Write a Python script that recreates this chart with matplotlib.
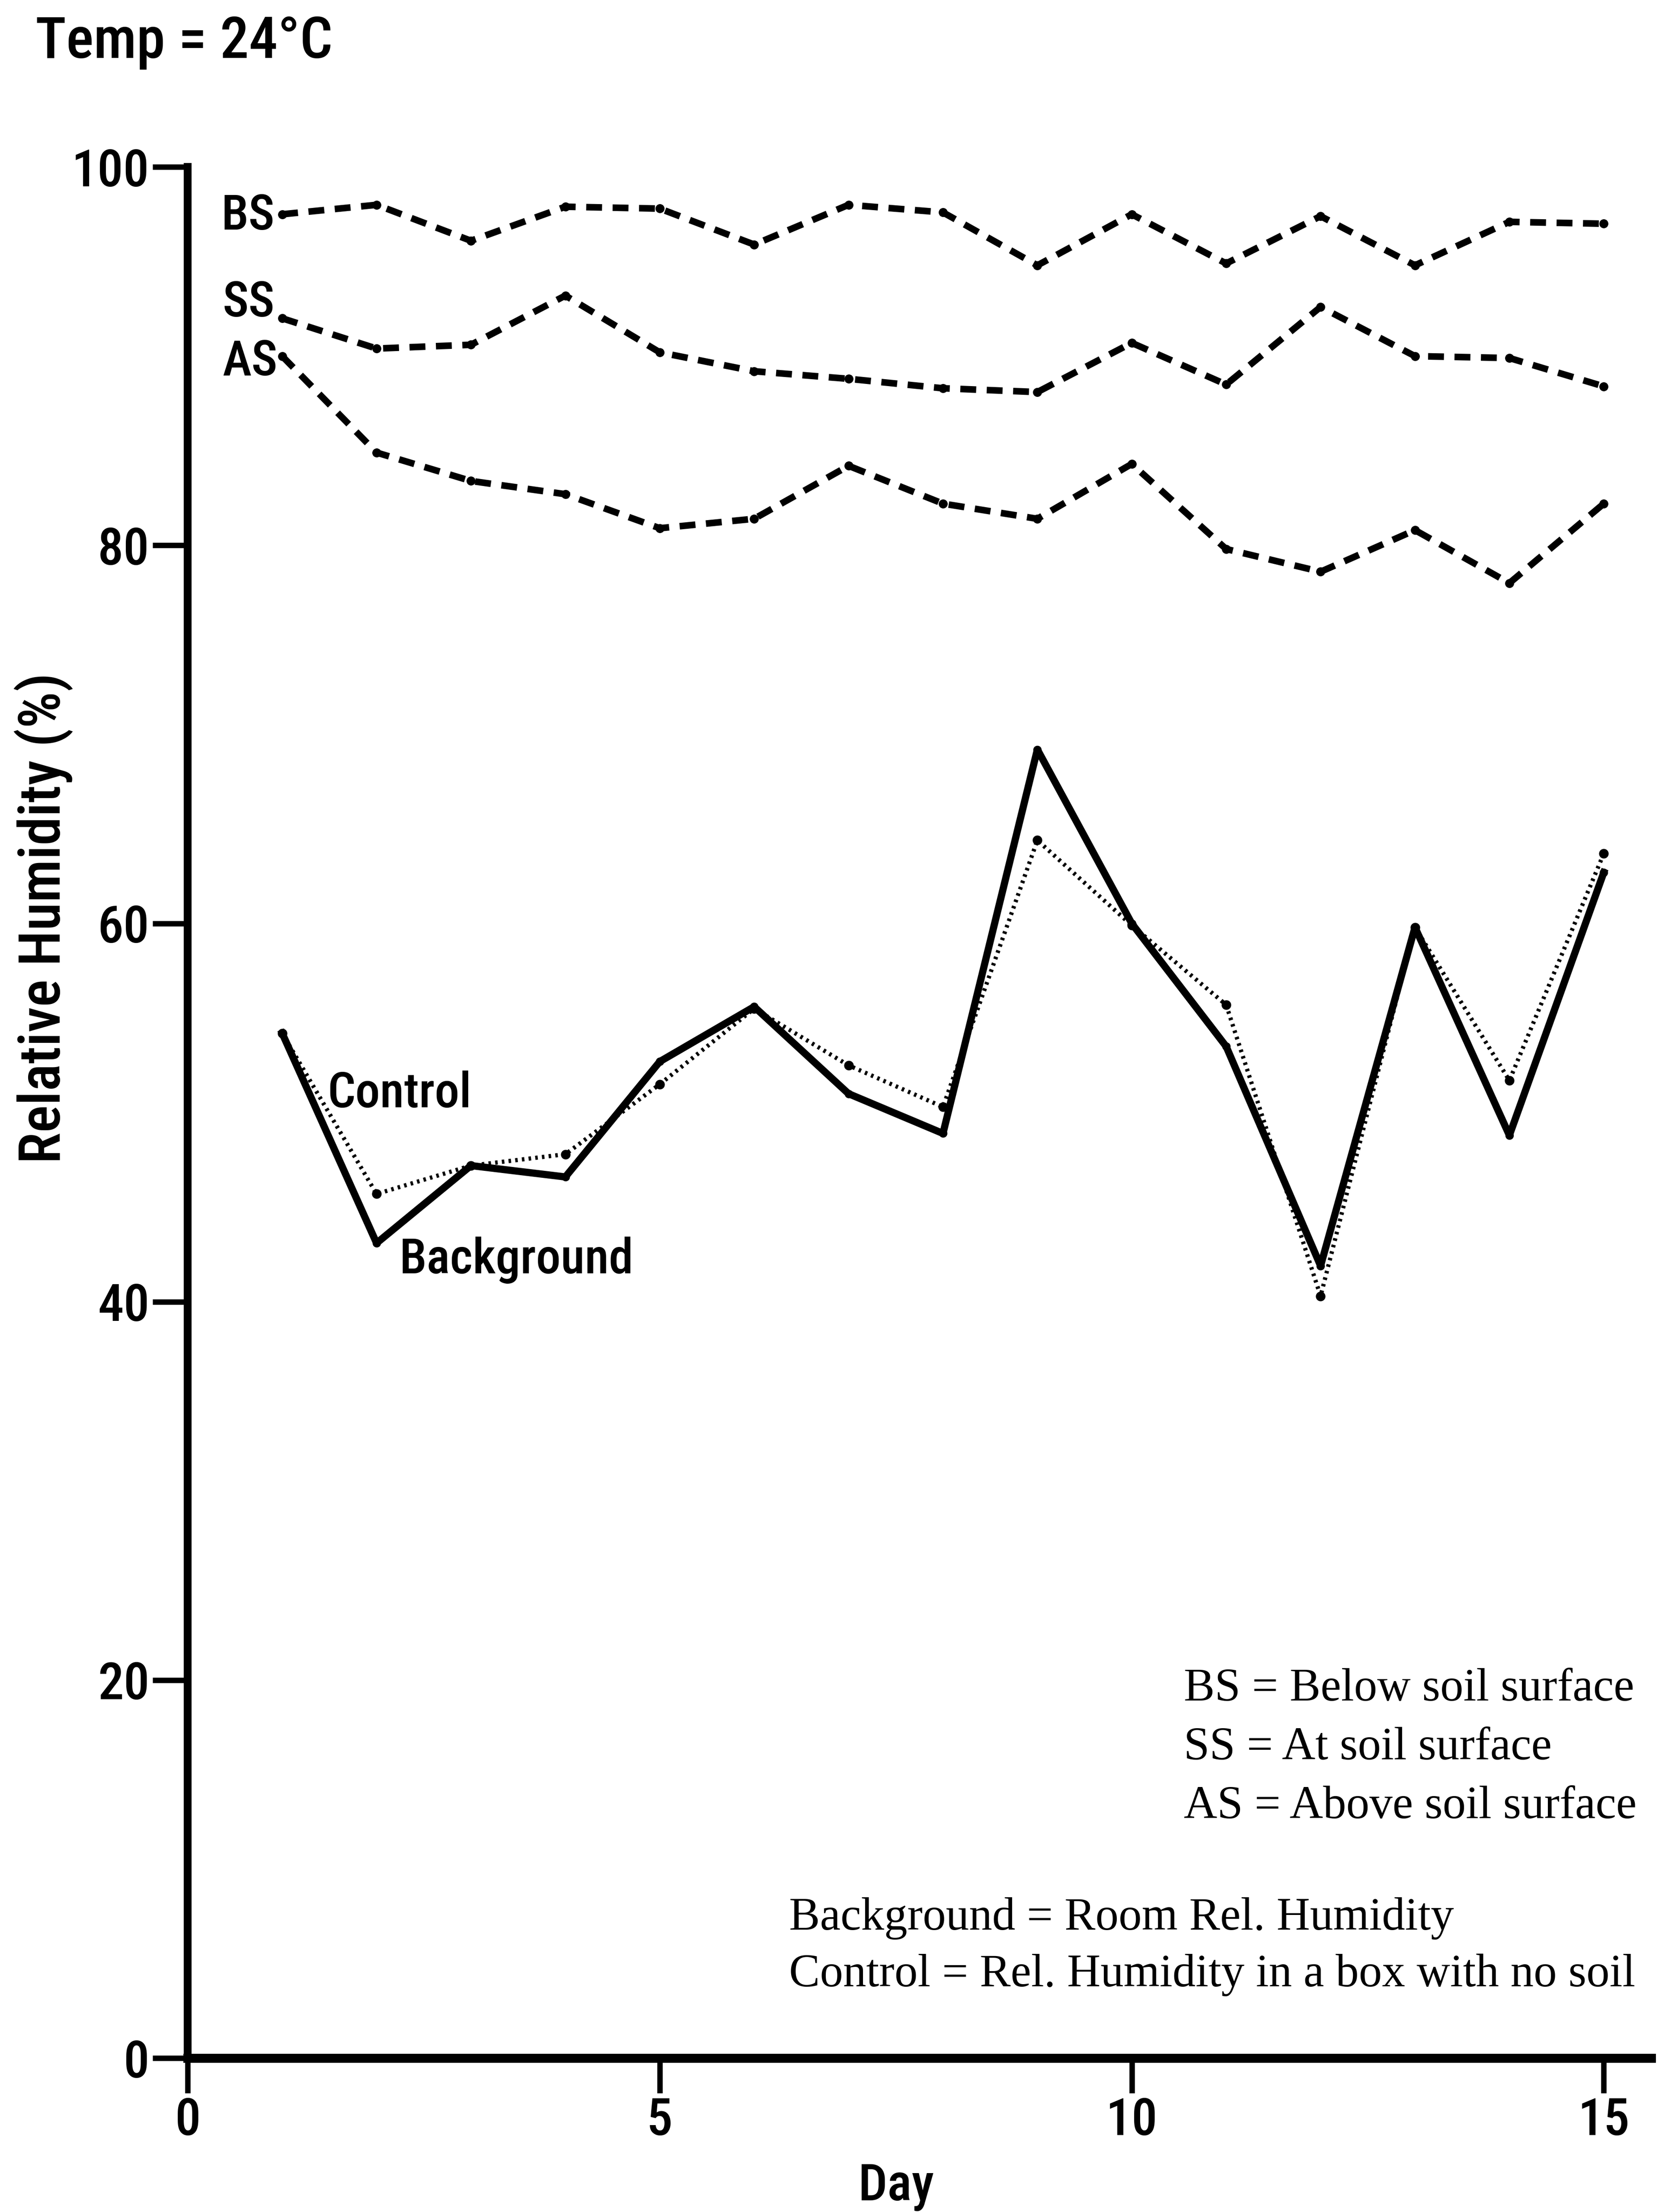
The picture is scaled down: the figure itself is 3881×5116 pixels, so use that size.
import matplotlib
matplotlib.use("Agg")
import matplotlib.pyplot as plt
from matplotlib import font_manager

# Relative humidity readings over 15 days, 24 degC
days = list(range(1, 16))
bs = [97.5, 98.0, 96.1, 97.9, 97.8, 95.9, 98.0, 97.6, 94.8, 97.5, 94.9, 97.4, 94.8, 97.1, 97.0]
ss = [92.0, 90.4, 90.6, 93.2, 90.2, 89.2, 88.8, 88.3, 88.1, 90.7, 88.5, 92.6, 90.0, 89.9, 88.4]
as_ = [90.0, 84.9, 83.4, 82.7, 80.9, 81.4, 84.2, 82.2, 81.4, 84.3, 79.8, 78.6, 80.8, 78.0, 82.2]
background = [54.2, 43.1, 47.2, 46.6, 52.7, 55.6, 51.0, 48.9, 69.2, 60.0, 53.5, 41.9, 59.8, 48.8, 62.7]
control = [54.2, 45.7, 47.2, 47.8, 51.5, 55.5, 52.5, 50.3, 64.4, 59.9, 55.7, 40.3, 59.8, 51.7, 63.7]

x_ticks = [0, 5, 10, 15]
y_ticks = [0, 20, 40, 60, 80, 100]

# pick a narrow sans if one is installed
available = {f.name for f in font_manager.fontManager.ttflist}
narrow = "DejaVu Sans"
for name in ["DejaVu Sans Condensed", "Liberation Sans Narrow", "Roboto Condensed"]:
    if name in available:
        narrow = name
        break

plt.rcParams["font.family"] = narrow
plt.rcParams["font.weight"] = "medium"

fig = plt.figure(figsize=(38.81, 51.16), dpi=100)
ax = fig.add_axes([0.1119, 0.0695, 0.872, 0.855])

dash = dict(color="black", lw=11, dashes=(2.4, 1.6), marker="o", ms=14)
ax.plot(days, bs, **dash)
ax.plot(days, ss, **dash)
ax.plot(days, as_, **dash)
ax.plot(days, background, color="black", lw=12, marker="o", ms=13)
ax.plot(days, control, color="black", lw=7, ls=(0, (0.6, 1.0)), marker="o", ms=15)

ax.set_xlim(0, 15.5)
ax.set_ylim(0, 100)
ax.set_xticks(x_ticks)
ax.set_yticks(y_ticks)
ax.spines["top"].set_visible(False)
ax.spines["right"].set_visible(False)
ax.spines["left"].set_linewidth(13)
ax.spines["bottom"].set_linewidth(15)
ax.spines["left"].set_bounds(0, 100)
ax.tick_params(direction="out", length=58, width=9, labelsize=86, pad=6)

# series labels
ax.text(0.92, 97.4, "BS", fontsize=82, ha="right", va="center")
ax.text(0.92, 92.8, "SS", fontsize=82, ha="right", va="center")
ax.text(0.95, 89.7, "AS", fontsize=82, ha="right", va="center")
ax.text(1.48, 51.0, "Control", fontsize=82, ha="left", va="center")
ax.text(2.24, 42.2, "Background", fontsize=82, ha="left", va="center")

serif = dict(family="Liberation Serif", fontsize=77, weight="normal", ha="left", va="center")
ax.text(10.55, 19.5, "BS = Below soil surface", **serif)
ax.text(10.55, 16.4, "SS = At soil surface", **serif)
ax.text(10.55, 13.3, "AS = Above soil surface", **serif)
ax.text(6.37, 7.4, "Background = Room Rel. Humidity", **serif)
ax.text(6.37, 4.4, "Control = Rel. Humidity in a box with no soil", **serif)

fig.text(0.021, 0.981, "Temp = 24°C", fontsize=96, ha="left", va="center")
fig.text(0.026, 0.585, "Relative Humidity (%)", fontsize=96, rotation=90,
         ha="center", va="center")
fig.text(0.534, 0.0115, "Day", fontsize=86, ha="center", va="center")

fig.savefig("out.png", dpi=100, facecolor="white")
